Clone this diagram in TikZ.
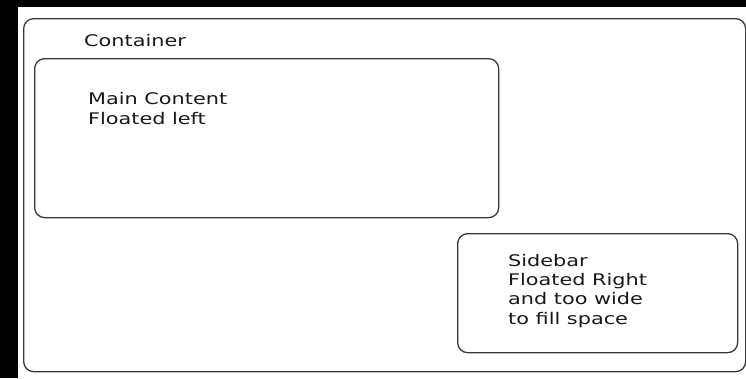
\documentclass[tikz,border=0pt]{standalone}
\usepackage{fontspec}
\setmainfont{DejaVu Sans}[FakeStretch=1.3]
\begin{document}
\begin{tikzpicture}[x=1pt,y=-1pt,
  box/.style={draw=black!78, line width=1.3pt, rounded corners=10pt, inner sep=0pt, anchor=north west},
  lbl/.style={inner sep=0pt, anchor=base west, align=left, text=black!90}]
\fill[black] (0,0) rectangle (746,378);
\fill[white] (18,7) rectangle (746,378);
\useasboundingbox (0,0) rectangle (746,378);
\node[box, minimum width=722pt, minimum height=353pt] (container) at (23,18) {};
\node[box, minimum width=464pt, minimum height=159pt] (main) at (34,58) {};
\node[box, minimum width=280pt, minimum height=119pt] (sidebar) at (457,233) {};
\node[lbl, font=\fontsize{16}{20}\selectfont] (ctitle) at (84,46) {Container};
\node[lbl, font=\fontsize{16}{20.7}\selectfont] (mtext) at (88,124.7) {Main Content\\Floated left};
\node[lbl, font=\fontsize{16}{19.4}\selectfont] (stext) at (508,324.2) {Sidebar\\Floated Right\\and too wide\\to fill space};
\end{tikzpicture}
\end{document}
